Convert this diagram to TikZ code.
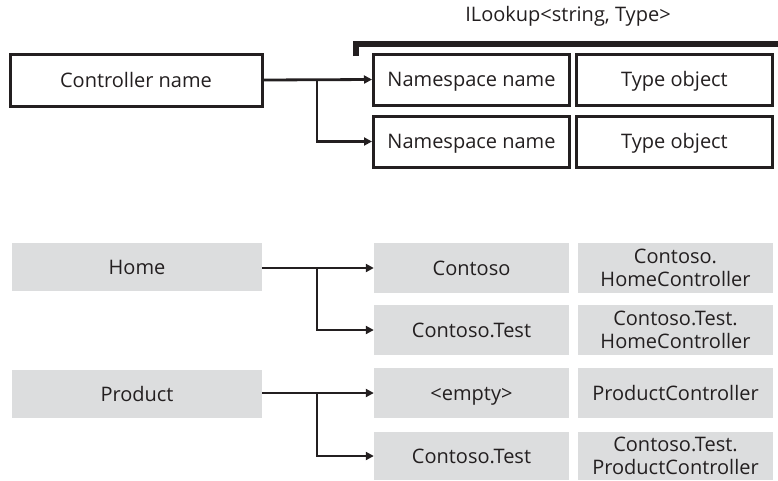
\documentclass[tikz,border=0pt]{standalone}
\usepackage{fontspec}
\setmainfont{Open Sans}
\usetikzlibrary{arrows.meta}
\definecolor{txt}{HTML}{231F20}
\definecolor{boxgray}{HTML}{DCDDDE}
\begin{document}
\begin{tikzpicture}[x=1pt,y=-1pt,
  every node/.style={font=\fontsize{20}{23}\selectfont, text=txt, inner sep=0pt},
  oneline/.style={text height=16pt, text depth=2pt},
  outbox/.style={draw=txt, line width=3pt, fill=white, oneline},
  graybox/.style={fill=boxgray, draw=none},
  conn/.style={draw=txt, line width=2.8pt, -{Triangle[length=8pt,width=8pt]}}]
\useasboundingbox (0,0) rectangle (778,480);
% top part
\node[outbox, minimum width=252pt, minimum height=52pt] (cn) at (136,80) {Controller name};
\node[outbox, minimum width=196pt, minimum height=51pt] (ns1) at (471.5,79.5) {Namespace name};
\node[outbox, minimum width=196pt, minimum height=51pt] (to1) at (674.5,79.5) {Type object};
\node[outbox, minimum width=196pt, minimum height=51pt] (ns2) at (471.5,141.5) {Namespace name};
\node[outbox, minimum width=196pt, minimum height=51pt] (to2) at (674.5,141.5) {Type object};
\coordinate (b1) at (317,80);
\draw[conn] (cn.east) -- (ns1.west);
\draw[conn] (b1) |- (ns2.west);
\node (il) at (568,16) {ILookup<string, Type>};
\coordinate (brl) at (355.5,56);
\coordinate (brr) at (778,44);
\draw[txt, line width=6pt] (brl) |- (brr);
% bottom part
\node[graybox, oneline, minimum width=250pt, minimum height=48pt] (home) at (137,267) {Home};
\node[graybox, oneline, minimum width=250pt, minimum height=48pt] (prod) at (137,394) {Product};
\node[graybox, oneline, minimum width=195pt, minimum height=50pt] (c1) at (471.5,268) {Contoso};
\node[graybox, minimum width=195pt, minimum height=50pt, align=center] (h1) at (675.5,268) {Contoso.\\HomeController};
\node[graybox, oneline, minimum width=195pt, minimum height=50pt] (c2) at (471.5,330) {Contoso.Test};
\node[graybox, minimum width=195pt, minimum height=50pt, align=center] (h2) at (675.5,330) {Contoso.Test.\\HomeController};
\node[graybox, oneline, minimum width=195pt, minimum height=50pt] (c3) at (471.5,393) {<empty>};
\node[graybox, oneline, minimum width=195pt, minimum height=50pt] (h3) at (675.5,393) {ProductController};
\node[graybox, oneline, minimum width=195pt, minimum height=48pt] (c4) at (471.5,456) {Contoso.Test};
\node[graybox, minimum width=195pt, minimum height=48pt, align=center] (h4) at (675.5,456) {Contoso.Test.\\ProductController};
\coordinate (b2) at (317,268);
\coordinate (b3) at (317,393);
\draw[conn] (home.east |- c1.west) -- (c1.west);
\draw[conn] (b2) |- (c2.west);
\draw[conn] (prod.east |- c3.west) -- (c3.west);
\draw[conn] (b3) |- (c4.west);
\end{tikzpicture}
\end{document}
